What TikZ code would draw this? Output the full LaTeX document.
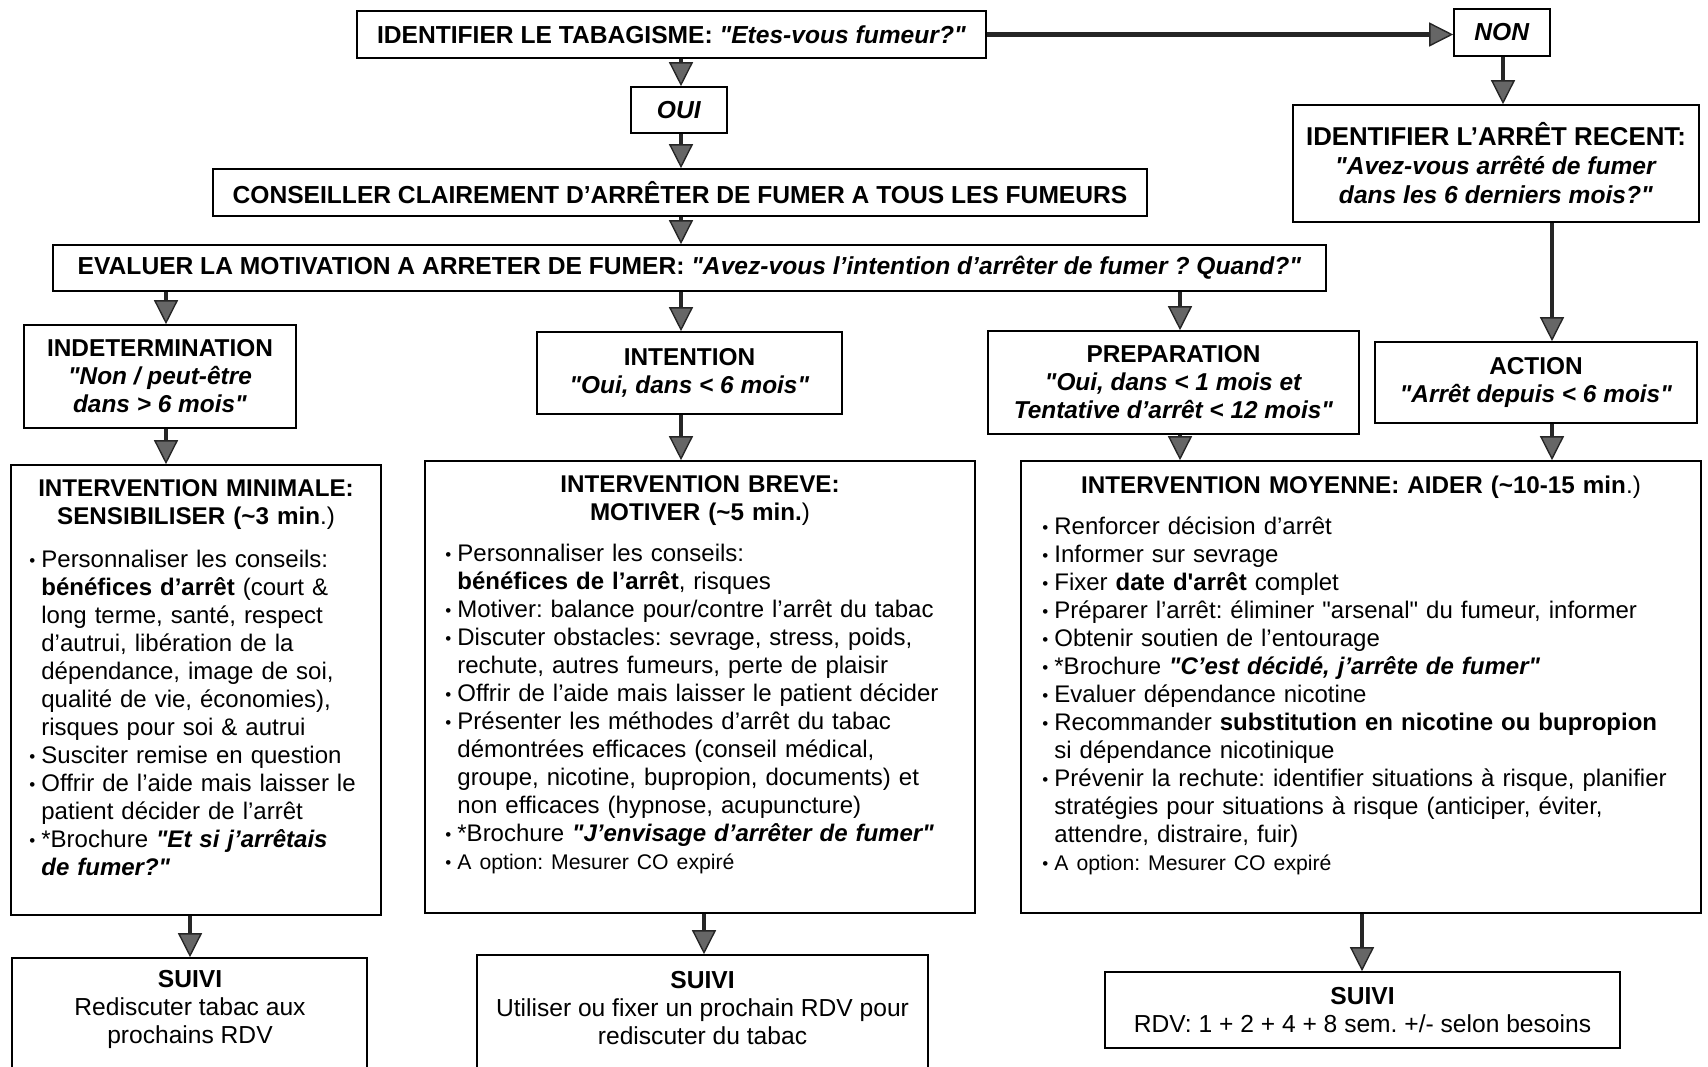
\documentclass[tikz,border=0pt]{standalone}
\usepackage{fontspec}
\setmainfont{Liberation Sans}[Ligatures=TeXOff]
\usetikzlibrary{arrows.meta,positioning}

\newcommand{\bpt}{\makebox[6pt][l]{\fontsize{8.5}{6}\selectfont\raisebox{0.5pt}{•}}}
\newcommand{\bcont}{\hspace*{6pt}}
\newcommand{\smallopt}{{\fontsize{10.6}{14}\selectfont\bpt A option: Mesurer CO expiré}}

\tikzset{
  box/.style={draw, line width=0.8pt, inner sep=0pt, align=center},
  flow/.style={draw=black!85, line width=2.2pt,
    -{Triangle[length=12pt, width=12pt, fill=black!60, line width=0.7pt]}},
  toptext/.style={font=\fontsize{12.3}{14.5}\selectfont\bfseries},
  stagetext/.style={font=\fontsize{12.2}{14}\selectfont\bfseries},
  bodytext/.style={font=\fontsize{12}{14}\selectfont},
  listtext/.style={bodytext, anchor=base west, inner sep=0pt, align=left},
  titletext/.style={font=\fontsize{12.1}{14}\selectfont\bfseries, inner sep=0pt},
  suivitext/.style={font=\fontsize{12.3}{14}\selectfont}
}

\begin{document}
\frenchspacing
\begin{tikzpicture}[x=0.5pt, y=-0.5pt]
\useasboundingbox (0,0) rectangle (1708,1066);

% questions
\node[box, toptext, minimum width=314.5pt, minimum height=23.5pt] (tabac) at (671.5,34.5) {IDENTIFIER LE TABAGISME: \textit{"Etes-vous fumeur?"}};
\node[box, toptext, minimum width=48pt, minimum height=23.5pt] (non) at (1502,32.5) {\textit{NON}};
\node[box, toptext, minimum width=48pt, minimum height=23pt] (oui) at (679,110) {\textit{OUI}};
\node[box, toptext, minimum width=467pt, minimum height=23.5pt] (cons) at (680,192.5) {CONSEILLER CLAIREMENT D’ARRÊTER DE FUMER A TOUS LES FUMEURS};
\node[box, toptext, minimum width=203pt, minimum height=58.5pt] (arret) at (1496,163.5) {{\fontsize{12.9}{14.5}\selectfont IDENTIFIER L’ARRÊT RECENT:}\\ \textit{"Avez-vous arrêté de fumer}\\ \textit{dans les 6 derniers mois?"}};
\node[box, toptext, minimum width=636.5pt, minimum height=23pt] (eval) at (689.5,268) {EVALUER LA MOTIVATION A ARRETER DE FUMER: \textit{"Avez-vous l’intention d’arrêter de fumer ? Quand?"}};

% stades
\node[box, stagetext, minimum width=136pt, minimum height=51.5pt] (indet) at (160,376.5) {INDETERMINATION\\ \textit{"Non / peut-être}\\ \textit{dans > 6 mois"}};
\node[box, stagetext, minimum width=152.5pt, minimum height=41pt] (inten) at (689.5,373) {INTENTION\\ \textit{"Oui, dans < 6 mois"}};
\node[box, stagetext, minimum width=185.5pt, minimum height=51.5pt] (prep) at (1173.5,382.5) {PREPARATION\\ \textit{"Oui, dans < 1 mois et}\\ \textit{Tentative d’arrêt < 12 mois"}};
\node[box, stagetext, minimum width=161pt, minimum height=40.5pt] (action) at (1536,382.5) {ACTION\\ \textit{"Arrêt depuis < 6 mois"}};

% interventions
\node[box, minimum width=185pt, minimum height=225pt] (mini) at (196,690) {};
\node[box, minimum width=275pt, minimum height=226pt] (breve) at (700,687) {};
\node[box, minimum width=340pt, minimum height=226pt] (moy) at (1361,687) {};

\node[titletext, anchor=base, align=center, text width=185pt] (minititle) at (196,496) {INTERVENTION MINIMALE:\\ SENSIBILISER (\textasciitilde3 min\textmd{.)}};
\node[listtext, text width=175pt] (minilist) at (29,567) {%
\bpt Personnaliser les conseils:\\
\bcont\textbf{bénéfices d’arrêt} (court \&\\
\bcont long terme, santé, respect\\
\bcont d’autrui, libération de la\\
\bcont dépendance, image de soi,\\
\bcont qualité de vie, économies),\\
\bcont risques pour soi \& autrui\\
\bpt Susciter remise en question\\
\bpt Offrir de l’aide mais laisser le\\
\bcont patient décider de l’arrêt\\
\bpt *Brochure \textbf{\textit{"Et si j’arrêtais}}\\
\bcont\textbf{\textit{de fumer?"}}};

\node[titletext, anchor=base, align=center, text width=275pt] (brevetitle) at (700,492) {INTERVENTION BREVE:\\ MOTIVER (\textasciitilde5 min.\textmd{)}};
\node[listtext, text width=265pt] (brevelist) at (445,561) {%
\bpt Personnaliser les conseils:\\
\bcont\textbf{bénéfices de l’arrêt}, risques\\
\bpt Motiver: balance pour/contre l’arrêt du tabac\\
\bpt Discuter obstacles: sevrage, stress, poids,\\
\bcont rechute, autres fumeurs, perte de plaisir\\
\bpt Offrir de l’aide mais laisser le patient décider\\
\bpt Présenter les méthodes d’arrêt du tabac\\
\bcont démontrées efficaces (conseil médical,\\
\bcont groupe, nicotine, bupropion, documents) et\\
\bcont non efficaces (hypnose, acupuncture)\\
\bpt *Brochure \textbf{\textit{"J’envisage d’arrêter de fumer"}}\\
\smallopt};

\node[titletext, anchor=base, align=center, text width=340pt] (moytitle) at (1361,493) {INTERVENTION MOYENNE: AIDER (\textasciitilde10-15 min\textmd{.)}};
\node[listtext, text width=330pt] (moylist) at (1042,534) {%
\bpt Renforcer décision d’arrêt\\
\bpt Informer sur sevrage\\
\bpt Fixer \textbf{date d'arrêt} complet\\
\bpt Préparer l’arrêt: éliminer "arsenal" du fumeur, informer\\
\bpt Obtenir soutien de l’entourage\\
\bpt *Brochure \textbf{\textit{"C’est décidé, j’arrête de fumer"}}\\
\bpt Evaluer dépendance nicotine\\
\bpt Recommander \textbf{substitution en nicotine ou bupropion}\\
\bcont si dépendance nicotinique\\
\bpt Prévenir la rechute: identifier situations à risque, planifier\\
\bcont stratégies pour situations à risque (anticiper, éviter,\\
\bcont attendre, distraire, fuir)\\
\smallopt};

% suivi
\node[box, minimum width=177.5pt, minimum height=71pt] (suivi1) at (189.5,1029) {};
\node[box, minimum width=225.5pt, minimum height=72.5pt] (suivi2) at (702.5,1027.5) {};
\node[box, suivitext, minimum width=257.5pt, minimum height=38pt] (suivi3) at (1362.5,1010) {\textbf{SUIVI}\\ RDV: 1 + 2 + 4 + 8 sem. +/- selon besoins};
\node[suivitext, align=center] (suivi1t) at (190,1009) {\textbf{SUIVI}\\ Rediscuter tabac aux\\ prochains RDV};
\node[suivitext, align=center] (suivi2t) at (702.5,1008) {\textbf{SUIVI}\\ Utiliser ou fixer un prochain RDV pour\\ rediscuter du tabac};

% colonnes des fleches
\coordinate (col1) at (166,0);
\coordinate (col2) at (681,0);
\coordinate (col3) at (1180,0);
\coordinate (col4) at (1552,0);
\coordinate (colnon) at (1503,0);
\coordinate (cols1) at (190,0);
\coordinate (cols2) at (704,0);
\coordinate (cols3) at (1362,0);

\draw[flow] (tabac.east) -- (tabac.east -| non.west);
\foreach \c/\a/\b in {col2/tabac/oui, col2/oui/cons, col2/cons/eval, colnon/non/arret,
    col4/arret/action, col1/eval/indet, col2/eval/inten, col3/eval/prep,
    col1/indet/mini, col2/inten/breve, col3/prep/moy, col4/action/moy,
    cols1/mini/suivi1, cols2/breve/suivi2, cols3/moy/suivi3}
  \draw[flow] (\c |- \a.south) -- (\c |- \b.north);

\end{tikzpicture}
\end{document}
